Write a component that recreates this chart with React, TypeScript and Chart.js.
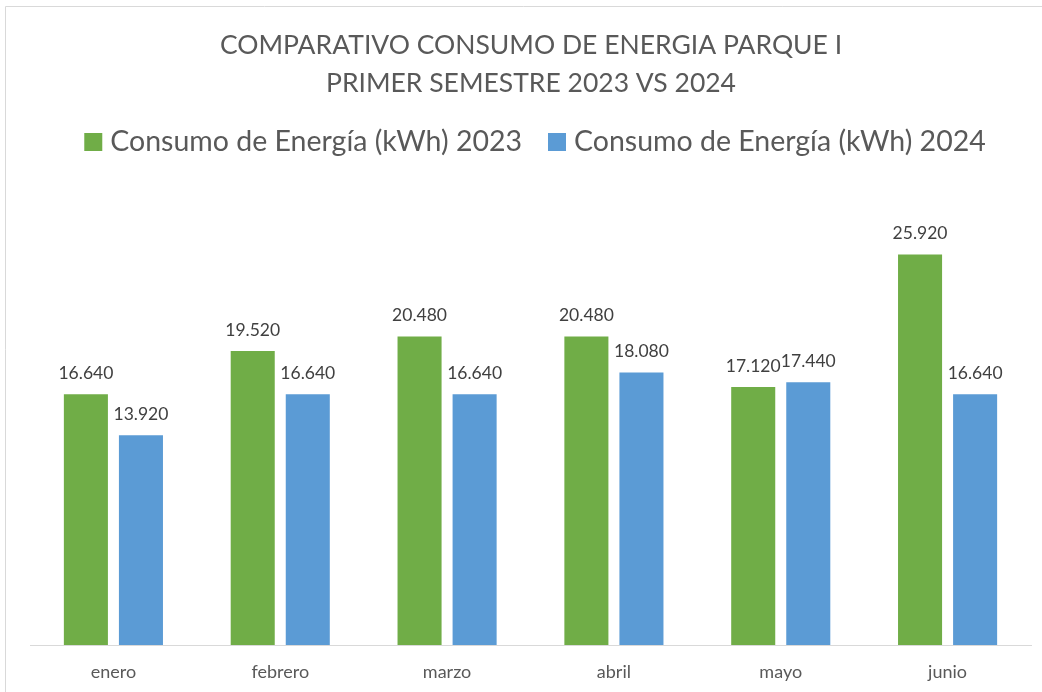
import React, { useEffect, useRef } from "react";
import { Chart, registerables } from "chart.js";

Chart.register(...registerables);

const months = ["enero", "febrero", "marzo", "abril", "mayo", "junio"];
const consumo2023 = [16640, 19520, 20480, 20480, 17120, 25920];
const consumo2024 = [13920, 16640, 16640, 18080, 17440, 16640];
const titleLines = ["COMPARATIVO CONSUMO DE ENERGIA PARQUE I", "PRIMER SEMESTRE 2023 VS 2024"];
const seriesNames = ["Consumo de Energía (kWh) 2023", "Consumo de Energía (kWh) 2024"];
const seriesColors = ["#70AD47", "#5B9BD5"];

const FONT = "Lato, 'Open Sans', sans-serif";

const fmt = (v: number) => v.toLocaleString("de-DE");

const labelPlugin = {
  id: "valueLabels",
  afterDatasetsDraw(chart: any) {
    const ctx = chart.ctx;
    ctx.save();
    ctx.font = `17.5px ${FONT}`;
    ctx.fillStyle = "#404040";
    ctx.textAlign = "center";
    ctx.textBaseline = "middle";
    chart.data.datasets.forEach((ds: any, i: number) => {
      const meta = chart.getDatasetMeta(i);
      meta.data.forEach((bar: any, j: number) => {
        ctx.fillText(fmt(ds.data[j]), bar.x, bar.y - 21);
      });
    });
    ctx.restore();
  },
};

const headerPlugin = {
  id: "header",
  beforeDraw(chart: any) {
    const ctx = chart.ctx;
    ctx.save();
    // outer border
    ctx.strokeStyle = "#d9d9d9";
    ctx.lineWidth = 1;
    ctx.beginPath();
    ctx.moveTo(5.5, chart.height);
    ctx.lineTo(5.5, 6.5);
    ctx.lineTo(chart.width, 6.5);
    ctx.stroke();
    // title
    ctx.fillStyle = "#595959";
    ctx.textAlign = "center";
    ctx.textBaseline = "middle";
    ctx.font = `26.5px ${FONT}`;
    ctx.fillText(titleLines[0], 531, 45);
    ctx.fillText(titleLines[1], 531, 83);
    // legend
    ctx.font = `28.5px ${FONT}`;
    ctx.textAlign = "left";
    const box = 18;
    const gapText = 8;
    const gapItem = 26;
    const w = seriesNames.map((s) => ctx.measureText(s).width);
    const total = box + gapText + w[0] + gapItem + box + gapText + w[1];
    let x = 535 - total / 2;
    const cy = 142;
    seriesNames.forEach((name, i) => {
      ctx.fillStyle = seriesColors[i];
      ctx.fillRect(x, cy - box / 2, box, box);
      ctx.fillStyle = "#595959";
      ctx.fillText(name, x + box + gapText, cy);
      x += box + gapText + w[i] + gapItem;
    });
    ctx.restore();
  },
};

export default function App() {
  const ref = useRef<HTMLCanvasElement>(null);
  useEffect(() => {
    if (!ref.current) return;
    const chart = new Chart(ref.current, {
      type: "bar",
      data: {
        labels: months,
        datasets: [
          {
            label: seriesNames[0],
            data: consumo2023,
            backgroundColor: seriesColors[0],
            barPercentage: 0.8,
            categoryPercentage: 0.66,
          },
          {
            label: seriesNames[1],
            data: consumo2024,
            backgroundColor: seriesColors[1],
            barPercentage: 0.8,
            categoryPercentage: 0.66,
          },
        ],
      },
      options: {
        responsive: false,
        animation: false,
        layout: { padding: { left: 30, right: 11, top: 193, bottom: 0 } },
        plugins: {
          title: { display: false },
          legend: { display: false },
          tooltip: { enabled: false },
        },
        scales: {
          x: {
            grid: { display: false, drawTicks: false },
            border: { display: true, color: "#d9d9d9", width: 1 },
            ticks: { color: "#595959", font: { family: FONT, size: 18 }, padding: 16 },
            afterFit: (scale: any) => {
              scale.height = 47;
            },
          },
          y: {
            display: false,
            min: 0,
            max: 30000,
          },
        },
      },
      plugins: [labelPlugin, headerPlugin],
    });
    return () => chart.destroy();
  }, []);
  return (
    <div style={{ position: "fixed", left: 0, top: 0, width: 1042, height: 692, background: "#fff" }}>
      <canvas ref={ref} width={1042} height={692} />
    </div>
  );
}
